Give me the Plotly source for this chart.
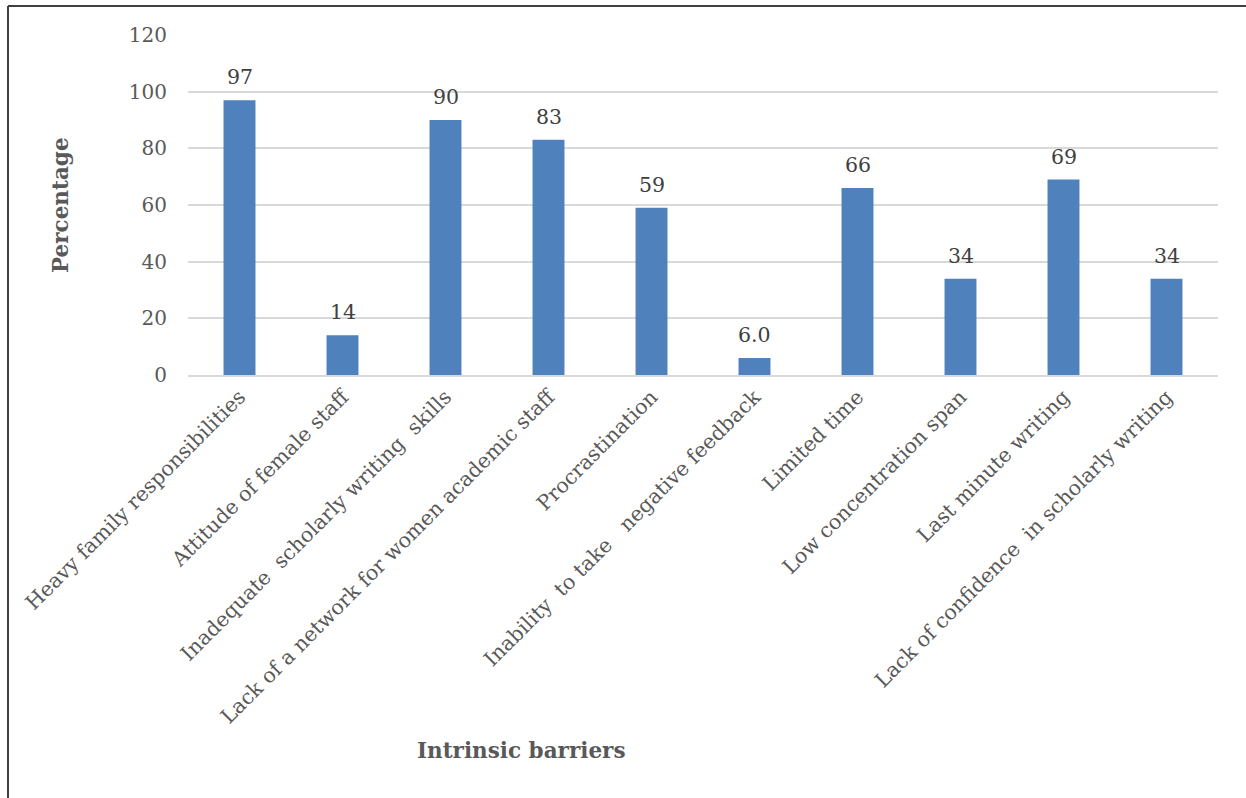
import plotly.graph_objects as go

categories = [
    "Heavy family responsibilities",
    "Attitude of female staff",
    "Inadequate\u00a0 scholarly writing\u00a0 skills",
    "Lack of a network for women academic staff",
    "Procrastination",
    "Inability\u00a0 to take\u00a0\u00a0 negative feedback",
    "Limited time",
    "Low concentration span",
    "Last minute writing",
    "Lack of confidence\u00a0 in scholarly writing",
]
percentages = [97, 14, 90, 83, 59, 6.0, 66, 34, 69, 34]
y_ticks = [0, 20, 40, 60, 80, 100, 120]

FONT = "DejaVu Serif"
TEXT = "#595959"
BAR = "#4F81BD"
GRID = "#D9D9D9"

labels = [f"{v:.1f}" if v < 10 else f"{v:.0f}" for v in percentages]

fig = go.Figure(
    go.Bar(
        x=categories,
        y=percentages,
        marker=dict(color=BAR, line=dict(width=0)),
        width=0.31,
    )
)

for c, v, t in zip(categories, percentages, labels):
    fig.add_annotation(
        x=c, y=v, text=t, showarrow=False, yanchor="bottom", yshift=9,
        font=dict(family=FONT, size=20.5, color="#404040"),
    )

fig.add_annotation(
    xref="paper", yref="paper", x=(521 - 188) / 1030, y=-(750 - 375) / 340,
    text="<b>Intrinsic barriers</b>", showarrow=False,
    xanchor="center", yanchor="middle",
    font=dict(family=FONT, size=21.5, color=TEXT),
)
fig.add_annotation(
    xref="paper", yref="paper", x=-(188 - 60) / 1030, y=(375 - 205) / 340,
    text="<b>Percentage</b>", showarrow=False, textangle=-90,
    xanchor="center", yanchor="middle",
    font=dict(family=FONT, size=21.5, color=TEXT),
)

# outer frame (left and top edges)
fig.add_shape(type="line", xref="paper", yref="paper",
              x0=(8 - 188) / 1030, x1=(8 - 188) / 1030,
              y0=(375 - 6) / 340, y1=(375 - 800) / 340,
              line=dict(color="#404040", width=2))
fig.add_shape(type="line", xref="paper", yref="paper",
              x0=(8 - 188) / 1030, x1=(1246 - 188) / 1030,
              y0=(375 - 6) / 340, y1=(375 - 6) / 340,
              line=dict(color="#404040", width=2))

fig.update_layout(
    width=1246, height=798,
    margin=dict(l=188, r=28, t=35, b=423),
    paper_bgcolor="white", plot_bgcolor="white",
    showlegend=False,
    font=dict(family=FONT, color=TEXT, size=20),
    xaxis=dict(
        tickangle=-45, showgrid=False, showline=True,
        linecolor=GRID, linewidth=1.5, ticks="",
        tickfont=dict(family=FONT, size=20.5, color=TEXT),
    ),
    yaxis=dict(
        range=[0, 120], tickvals=y_ticks, showgrid=True, gridcolor=GRID,
        gridwidth=1.5, zeroline=False, showline=False, ticks="",
        ticklabelstandoff=20,
        tickfont=dict(family=FONT, size=20, color=TEXT),
    ),
)

fig.write_html("out.html")
